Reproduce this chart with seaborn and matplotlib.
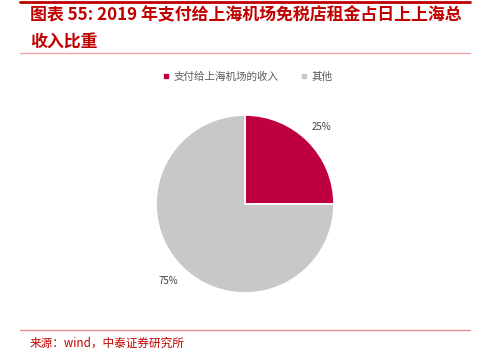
import matplotlib
matplotlib.use("Agg")
import matplotlib.pyplot as plt
import seaborn as sns
from matplotlib.lines import Line2D

# data
categories = ["支付给上海机场的收入", "其他"]
shares = [25, 75]
colors = ["#BE0040", "#C8C8C8"]

title = "图表 55: 2019 年支付给上海机场免税店租金占日上上海总\n收入比重"
source = "来源：wind，中泰证券研究所"

sns.set_theme(style="white")
plt.rcParams['font.family'] = ['Noto Sans CJK SC', 'DejaVu Sans']

W, H = 483, 357
fig = plt.figure(figsize=(W / 100, H / 100), dpi=100)

# pie axes: centre at (245, 204) px, radius ~89 px
r = 89
ax = fig.add_axes([(245 - r) / W, (H - 204 - r) / H, 2 * r / W, 2 * r / H])
wedges, _, autotexts = ax.pie(
    shares, colors=colors, startangle=90, counterclock=False,
    autopct="%d%%", pctdistance=1.22, labels=None,
    wedgeprops=dict(linewidth=1.2, edgecolor="white"),
    textprops=dict(fontsize=7, color="#404040"),
)
ax.set_aspect("auto")
ax.set_xlim(-1, 1)
ax.set_ylim(-1, 1)
ax.axis("off")

# legend
handles = [Line2D([], [], marker="s", linestyle="", markersize=3,
                  markerfacecolor=c, markeredgecolor=c) for c in colors]
fig.legend(handles, categories, loc="center", bbox_to_anchor=(247 / W, 1 - 77 / H),
           ncol=2, frameon=False, fontsize=7.6, labelcolor="#595959",
           handletextpad=0.3, columnspacing=2.0, handlelength=0.8)

# decorations
fig.add_artist(Line2D([20 / W, 470 / W], [1 - 1.5 / H] * 2, color="#C00000", lw=2))
fig.add_artist(Line2D([20 / W, 470 / W], [1 - 53 / H] * 2, color="#EBA5A5", lw=1))
fig.add_artist(Line2D([20 / W, 470 / W], [1 - 330 / H] * 2, color="#E88C8C", lw=1))

fig.text(30 / W, 1 - 29 / H, title, ha="left", va="center", fontsize=12.2,
         fontweight="bold", style="italic", color="#C00000", linespacing=1.6)
fig.text(30 / W, 1 - 343 / H, source, ha="left", va="center", fontsize=8.4,
         color="#C00000")

fig.savefig("out.png", dpi=100)
